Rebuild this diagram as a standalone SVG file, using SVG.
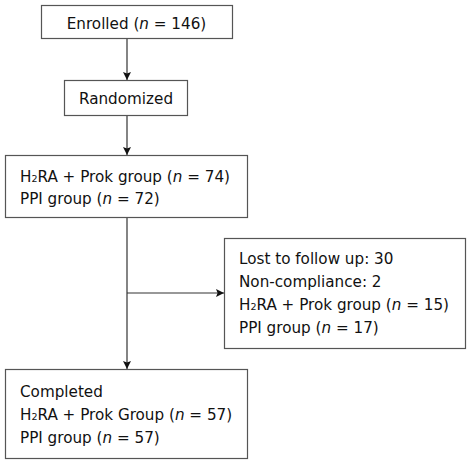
<svg xmlns="http://www.w3.org/2000/svg" width="472" height="464" viewBox="0 0 472 464">
<style>
.box{fill:#fff;stroke:#555;stroke-width:1.2}
.t{font-family:"DejaVu Sans",Verdana,sans-serif;font-size:15.2px;fill:#111}
.c{text-anchor:middle}
.sub{font-size:9.5px}
.ln{stroke:#333;stroke-width:1.2;fill:none}
</style>
<defs>
<marker id="ah" viewBox="0 0 10 10" refX="10" refY="5" markerWidth="8" markerHeight="8" markerUnits="userSpaceOnUse" orient="auto">
<path d="M0,0 L10,5 L0,10 L2,5 Z" fill="#111"/>
</marker>
</defs>
<rect width="472" height="464" fill="#fff"/>
<g id="connectors">
<line class="ln" x1="127" y1="39" x2="127" y2="80" marker-end="url(#ah)"/>
<line class="ln" x1="127" y1="116" x2="127" y2="155" marker-end="url(#ah)"/>
<line class="ln" x1="127" y1="218" x2="127" y2="369" marker-end="url(#ah)"/>
<line class="ln" x1="127" y1="293" x2="224" y2="293" marker-end="url(#ah)"/>
</g>
<g id="enrolled">
<rect class="box" x="41.5" y="5.5" width="191" height="33"/>
<text class="t c" x="136.5" y="28.5">Enrolled (<tspan font-style="italic">n</tspan> = 146)</text>
</g>
<g id="randomized">
<rect class="box" x="64.5" y="80.5" width="123" height="35"/>
<text class="t c" x="126" y="103.5">Randomized</text>
</g>
<g id="groups">
<rect class="box" x="5.5" y="155.5" width="242" height="62"/>
<text class="t" x="20" y="182">H<tspan class="sub">2</tspan>RA + Prok group (<tspan font-style="italic">n</tspan> = 74)</text>
<text class="t" x="20" y="204">PPI group (<tspan font-style="italic">n</tspan> = 72)</text>
</g>
<g id="lost">
<rect class="box" x="224.5" y="238.5" width="241" height="110"/>
<text class="t" x="239" y="264">Lost to follow up: 30</text>
<text class="t" x="239" y="287">Non-compliance: 2</text>
<text class="t" x="239" y="310">H<tspan class="sub">2</tspan>RA + Prok group (<tspan font-style="italic">n</tspan> = 15)</text>
<text class="t" x="239" y="333">PPI group (<tspan font-style="italic">n</tspan> = 17)</text>
</g>
<g id="completed">
<rect class="box" x="5.5" y="369.5" width="242" height="89"/>
<text class="t" x="20" y="397">Completed</text>
<text class="t" x="20" y="420">H<tspan class="sub">2</tspan>RA + Prok Group (<tspan font-style="italic">n</tspan> = 57)</text>
<text class="t" x="20" y="443">PPI group (<tspan font-style="italic">n</tspan> = 57)</text>
</g>
</svg>
